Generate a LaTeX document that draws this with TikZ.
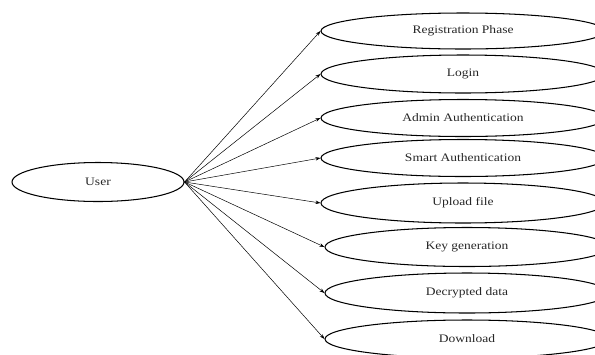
\documentclass[tikz,border=0pt]{standalone}
\usepackage{fontspec}
\setmainfont[FakeStretch=1.18]{Liberation Serif}
\usetikzlibrary{shapes.geometric,arrows.meta}
\begin{document}
\begin{tikzpicture}[x=1bp,y=-1bp,
  uc/.style={draw=black,ellipse,line width=1.05pt,inner sep=0pt,
    minimum width=284bp,minimum height=37bp,
    font=\fontsize{11.5}{13}\selectfont,text=black!85},
  link/.style={line width=0.5pt,-{Stealth[length=5bp,width=3.5bp]}}]
\useasboundingbox (0,0) rectangle (595,354);
\node[uc,minimum width=172bp,minimum height=39bp] (user) at (98,182) {User};
\node[uc,minimum height=36bp] (reg) at (463,31) {Registration Phase};
\node[uc,minimum height=38bp] (login) at (463,74) {Login};
\node[uc] (admin) at (463,118) {Admin Authentication};
\node[uc] (smart) at (463,158) {Smart Authentication};
\node[uc,minimum height=40bp] (upload) at (463,203) {Upload file};
\node[uc,minimum height=39bp] (key) at (467,247) {Key generation};
\node[uc,minimum height=40bp] (dec) at (467,293) {Decrypted data};
\node[uc,minimum height=38bp] (down) at (467,339) {Download};
\foreach \t in {reg,login,admin,smart,upload,key,dec,down}
  \draw[link] (user.east) -- (\t.west);
\end{tikzpicture}
\end{document}
